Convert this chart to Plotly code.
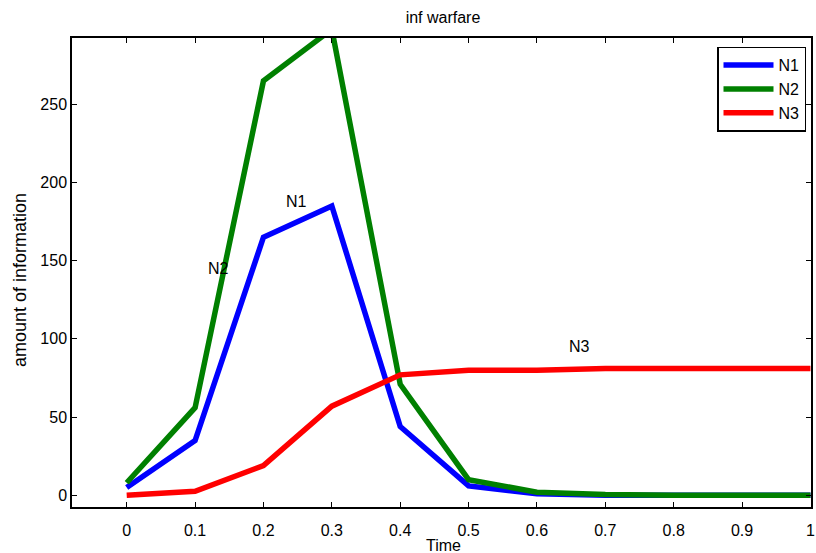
import plotly.graph_objects as go

time = [0, 0.1, 0.2, 0.3, 0.4, 0.5, 0.6, 0.7, 0.8, 0.9, 1.0]
n1 = [5, 35, 165, 185, 44, 6, 1, 0, 0, 0, 0]
n2 = [8, 56, 265, 298, 71, 10, 2, 0.5, 0, 0, 0]
n3 = [0, 2.5, 19, 57, 77, 80, 80, 81, 81, 81, 81]

x_ticks = [0, 0.1, 0.2, 0.3, 0.4, 0.5, 0.6, 0.7, 0.8, 0.9, 1.0]
x_ticklabels = ["0", "0.1", "0.2", "0.3", "0.4", "0.5", "0.6", "0.7", "0.8", "0.9", "1"]
y_ticks = [0, 50, 100, 150, 200, 250]

labels = [("N1", 0.2485, 188), ("N2", 0.1347, 145), ("N3", 0.6615, 95)]

FONT = "Liberation Sans, Arial, Helvetica, sans-serif"
L, R, T, B = 72, 5, 38, 46
PW = 816 - L - R
PH = 553 - T - B

fig = go.Figure()
for name, ys, col in [("N1", n1, "#0000FF"), ("N2", n2, "#008000"), ("N3", n3, "#FF0000")]:
    fig.add_trace(go.Scatter(x=time, y=ys, mode="lines", name=name,
                             line=dict(color=col, width=5.5)))

for txt, lx, ly in labels:
    fig.add_annotation(x=lx, y=ly, text=txt, showarrow=False,
                       font=dict(family=FONT, size=16, color="black"))

# y-axis title
fig.add_annotation(xref="paper", yref="paper", x=-52 / PW, y=(507 - 280) / PH,
                   text="amount of information", textangle=-90, showarrow=False,
                   xanchor="center", yanchor="middle",
                   font=dict(family=FONT, size=18, color="black"))

# x-axis title
fig.add_annotation(xref="paper", yref="paper", x=(443 - L) / PW, y=-(545 - 507) / PH,
                   text="Time", showarrow=False,
                   xanchor="center", yanchor="middle",
                   font=dict(family=FONT, size=16, color="black"))

fig.update_layout(
    width=816, height=553,
    margin=dict(l=L, r=R, t=T, b=B, autoexpand=False),
    paper_bgcolor="white", plot_bgcolor="white",
    font=dict(family=FONT, size=16, color="black"),
    title=dict(text="inf warfare", x=443/816, xanchor="center", y=1 - 17/553, yanchor="middle",
               font=dict(size=16)),
    showlegend=True,
    legend=dict(x=(806 - L) / PW, y=(507 - 46.7) / PH, xanchor="right", yanchor="top",
                bordercolor="black", borderwidth=1.5, bgcolor="white",
                font=dict(size=16), itemwidth=50),
    xaxis=dict(range=[-0.08, 1.0008], tickvals=x_ticks, ticktext=x_ticklabels,
               showgrid=False, zeroline=False, showline=True, linecolor="black", linewidth=1.5,
               mirror="ticks", ticks="inside", ticklen=5, tickcolor="black",
               ticklabelstandoff=8, automargin=False, ticklabeloverflow="allow"),
    yaxis=dict(range=[-7.5, 292.4], tickvals=y_ticks,
               showgrid=False, zeroline=False, showline=True, linecolor="black", linewidth=1.5,
               mirror="ticks", ticks="inside", ticklen=5, tickcolor="black",
               automargin=False),
)

fig.write_html("out.html")
